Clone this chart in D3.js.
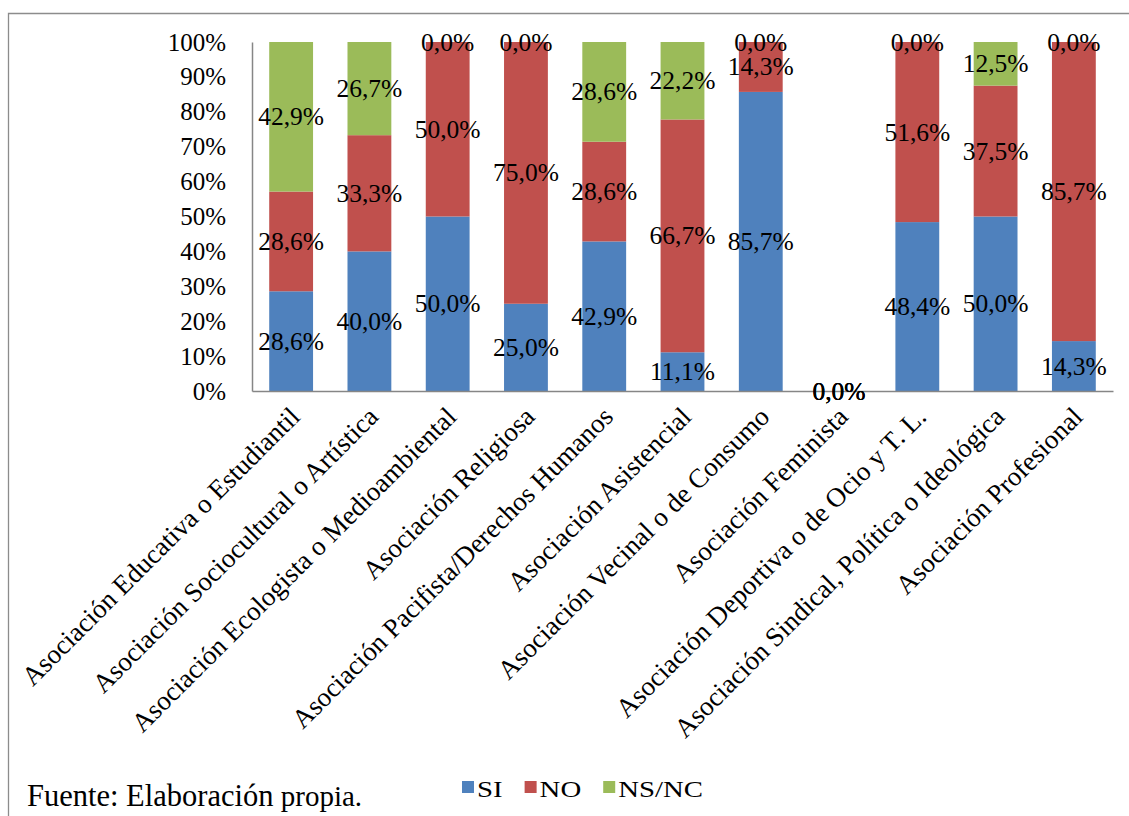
<!DOCTYPE html>
<html>
<head>
<meta charset="utf-8">
<script src="https://cdn.jsdelivr.net/npm/d3@7"></script>
<style>
  html, body { margin: 0; padding: 0; background: #fff; }
  svg { display: block; }
  text { font-family: "Liberation Serif", "Times New Roman", serif; fill: #000; }
</style>
</head>
<body>
<svg id="chart" width="1129" height="816"></svg>
<script>
// Tipo de asociación
const categories = [
  "Asociación Educativa o Estudiantil",
  "Asociación Sociocultural o Artística",
  "Asociación Ecologista o Medioambiental",
  "Asociación Religiosa",
  "Asociación Pacifista/Derechos Humanos",
  "Asociación Asistencial",
  "Asociación Vecinal o de Consumo",
  "Asociación Feminista",
  "Asociación Deportiva o de Ocio y T. L.",
  "Asociación Sindical, Política o Ideológica",
  "Asociación Profesional"
];

// Porcentaje de respuestas por serie
const seriesNames = ["SI", "NO", "NS/NC"];
const siValues   = [28.6, 40.0, 50.0, 25.0, 42.9, 11.1, 85.7, 0.0, 48.4, 50.0, 14.3];
const noValues   = [28.6, 33.3, 50.0, 75.0, 28.6, 66.7, 14.3, 0.0, 51.6, 37.5, 85.7];
const nsncValues = [42.9, 26.7, 0.0, 0.0, 28.6, 22.2, 0.0, 0.0, 0.0, 12.5, 0.0];
const seriesColors = ["#4F81BD", "#C0504D", "#9BBB59"];

const yTicks = [0, 0.1, 0.2, 0.3, 0.4, 0.5, 0.6, 0.7, 0.8, 0.9, 1];

const rows = categories.map((c, i) => ({
  cat: c, "SI": siValues[i], "NO": noValues[i], "NS/NC": nsncValues[i]
}));

const svg = d3.select("#chart");
const W = 1129, H = 816;
const plot = { left: 252, right: 1113, top: 42, bottom: 391 };

// Outer frame (top and left edges are visible)
svg.append("path")
  .attr("d", `M8.5,${H} L8.5,13.5 L${W},13.5`)
  .attr("fill", "none").attr("stroke", "#8c8c8c").attr("stroke-width", 1.3);

const x = d3.scaleBand()
  .domain(categories)
  .range([plot.left, plot.right])
  .paddingInner(0.44)
  .paddingOuter(0.22);

const y = d3.scaleLinear().domain([0, 1]).range([plot.bottom, plot.top]);

const stacked = d3.stack()
  .keys(seriesNames)
  .offset(d3.stackOffsetExpand)(rows);

// Bars
const layers = svg.append("g").selectAll("g")
  .data(stacked).join("g")
  .attr("fill", (d, i) => seriesColors[i]);

layers.selectAll("rect")
  .data(d => d.map(p => ({ p, key: d.key })))
  .join("rect")
  .attr("x", d => x(d.p.data.cat))
  .attr("width", x.bandwidth())
  .attr("y", d => y(d.p[1]))
  .attr("height", d => Math.max(0, y(d.p[0]) - y(d.p[1])));

// Y axis
const yAxis = d3.axisLeft(y).tickValues(yTicks).tickFormat(d3.format(".0%")).tickSize(0).tickPadding(26);
const gy = svg.append("g").attr("transform", `translate(${plot.left},0)`).call(yAxis);
gy.select(".domain").attr("stroke", "#868686").attr("stroke-width", 1.5);
gy.selectAll("text").attr("font-size", 25).attr("font-family", "Liberation Serif");

// X axis
const xAxis = d3.axisBottom(x).tickSize(0).tickFormat("");
const gx = svg.append("g").attr("transform", `translate(0,${plot.bottom})`).call(xAxis);
gx.select(".domain").attr("stroke", "#868686").attr("stroke-width", 1.5);

// Rotated category labels
svg.append("g").selectAll("text")
  .data(categories).join("text")
  .attr("transform", d => `translate(${x(d) + x.bandwidth() / 2 - 3},${plot.bottom + 14}) rotate(-45)`)
  .attr("text-anchor", "end")
  .attr("dy", "0.7em")
  .attr("font-size", 27)
  .text(d => d);

// Data labels (decimal comma)
const es = d3.formatLocale({ decimal: ",", thousands: ".", grouping: [3], currency: ["", "€"] });
const fmt = es.format(".1f");
const labels = [];
stacked.forEach((layer, si) => {
  layer.forEach((p, ci) => {
    const raw = [siValues, noValues, nsncValues][si][ci];
    labels.push({ cat: p.data.cat, mid: (p[0] + p[1]) / 2, text: fmt(raw) + "%" });
  });
});
svg.append("g").selectAll("text")
  .data(labels).join("text")
  .attr("x", d => x(d.cat) + x.bandwidth() / 2)
  .attr("y", d => y(d.mid))
  .attr("text-anchor", "middle")
  .attr("dominant-baseline", "central")
  .attr("font-size", 25.5)
  .text(d => d.text);

// Legend (text drawn slightly widened)
const legend = svg.append("g").attr("transform", "translate(462,0)");
let lx = 0;
seriesNames.forEach((name, i) => {
  legend.append("rect").attr("x", lx).attr("y", 781).attr("width", 12).attr("height", 12).attr("fill", seriesColors[i]);
  const t = legend.append("text")
    .attr("transform", `translate(${lx + 15},797) scale(1.2,1)`)
    .attr("font-size", 24).text(name);
  lx += 15 + 1.2 * t.node().getComputedTextLength() + 22;
});

// Source note
const src = svg.append("text").attr("x", 27).attr("y", 806);
src.append("tspan").attr("font-size", 30.5).text("Fuente: Elaboración");
src.append("tspan").attr("font-size", 29).text(" propia.");
</script>
</body>
</html>
